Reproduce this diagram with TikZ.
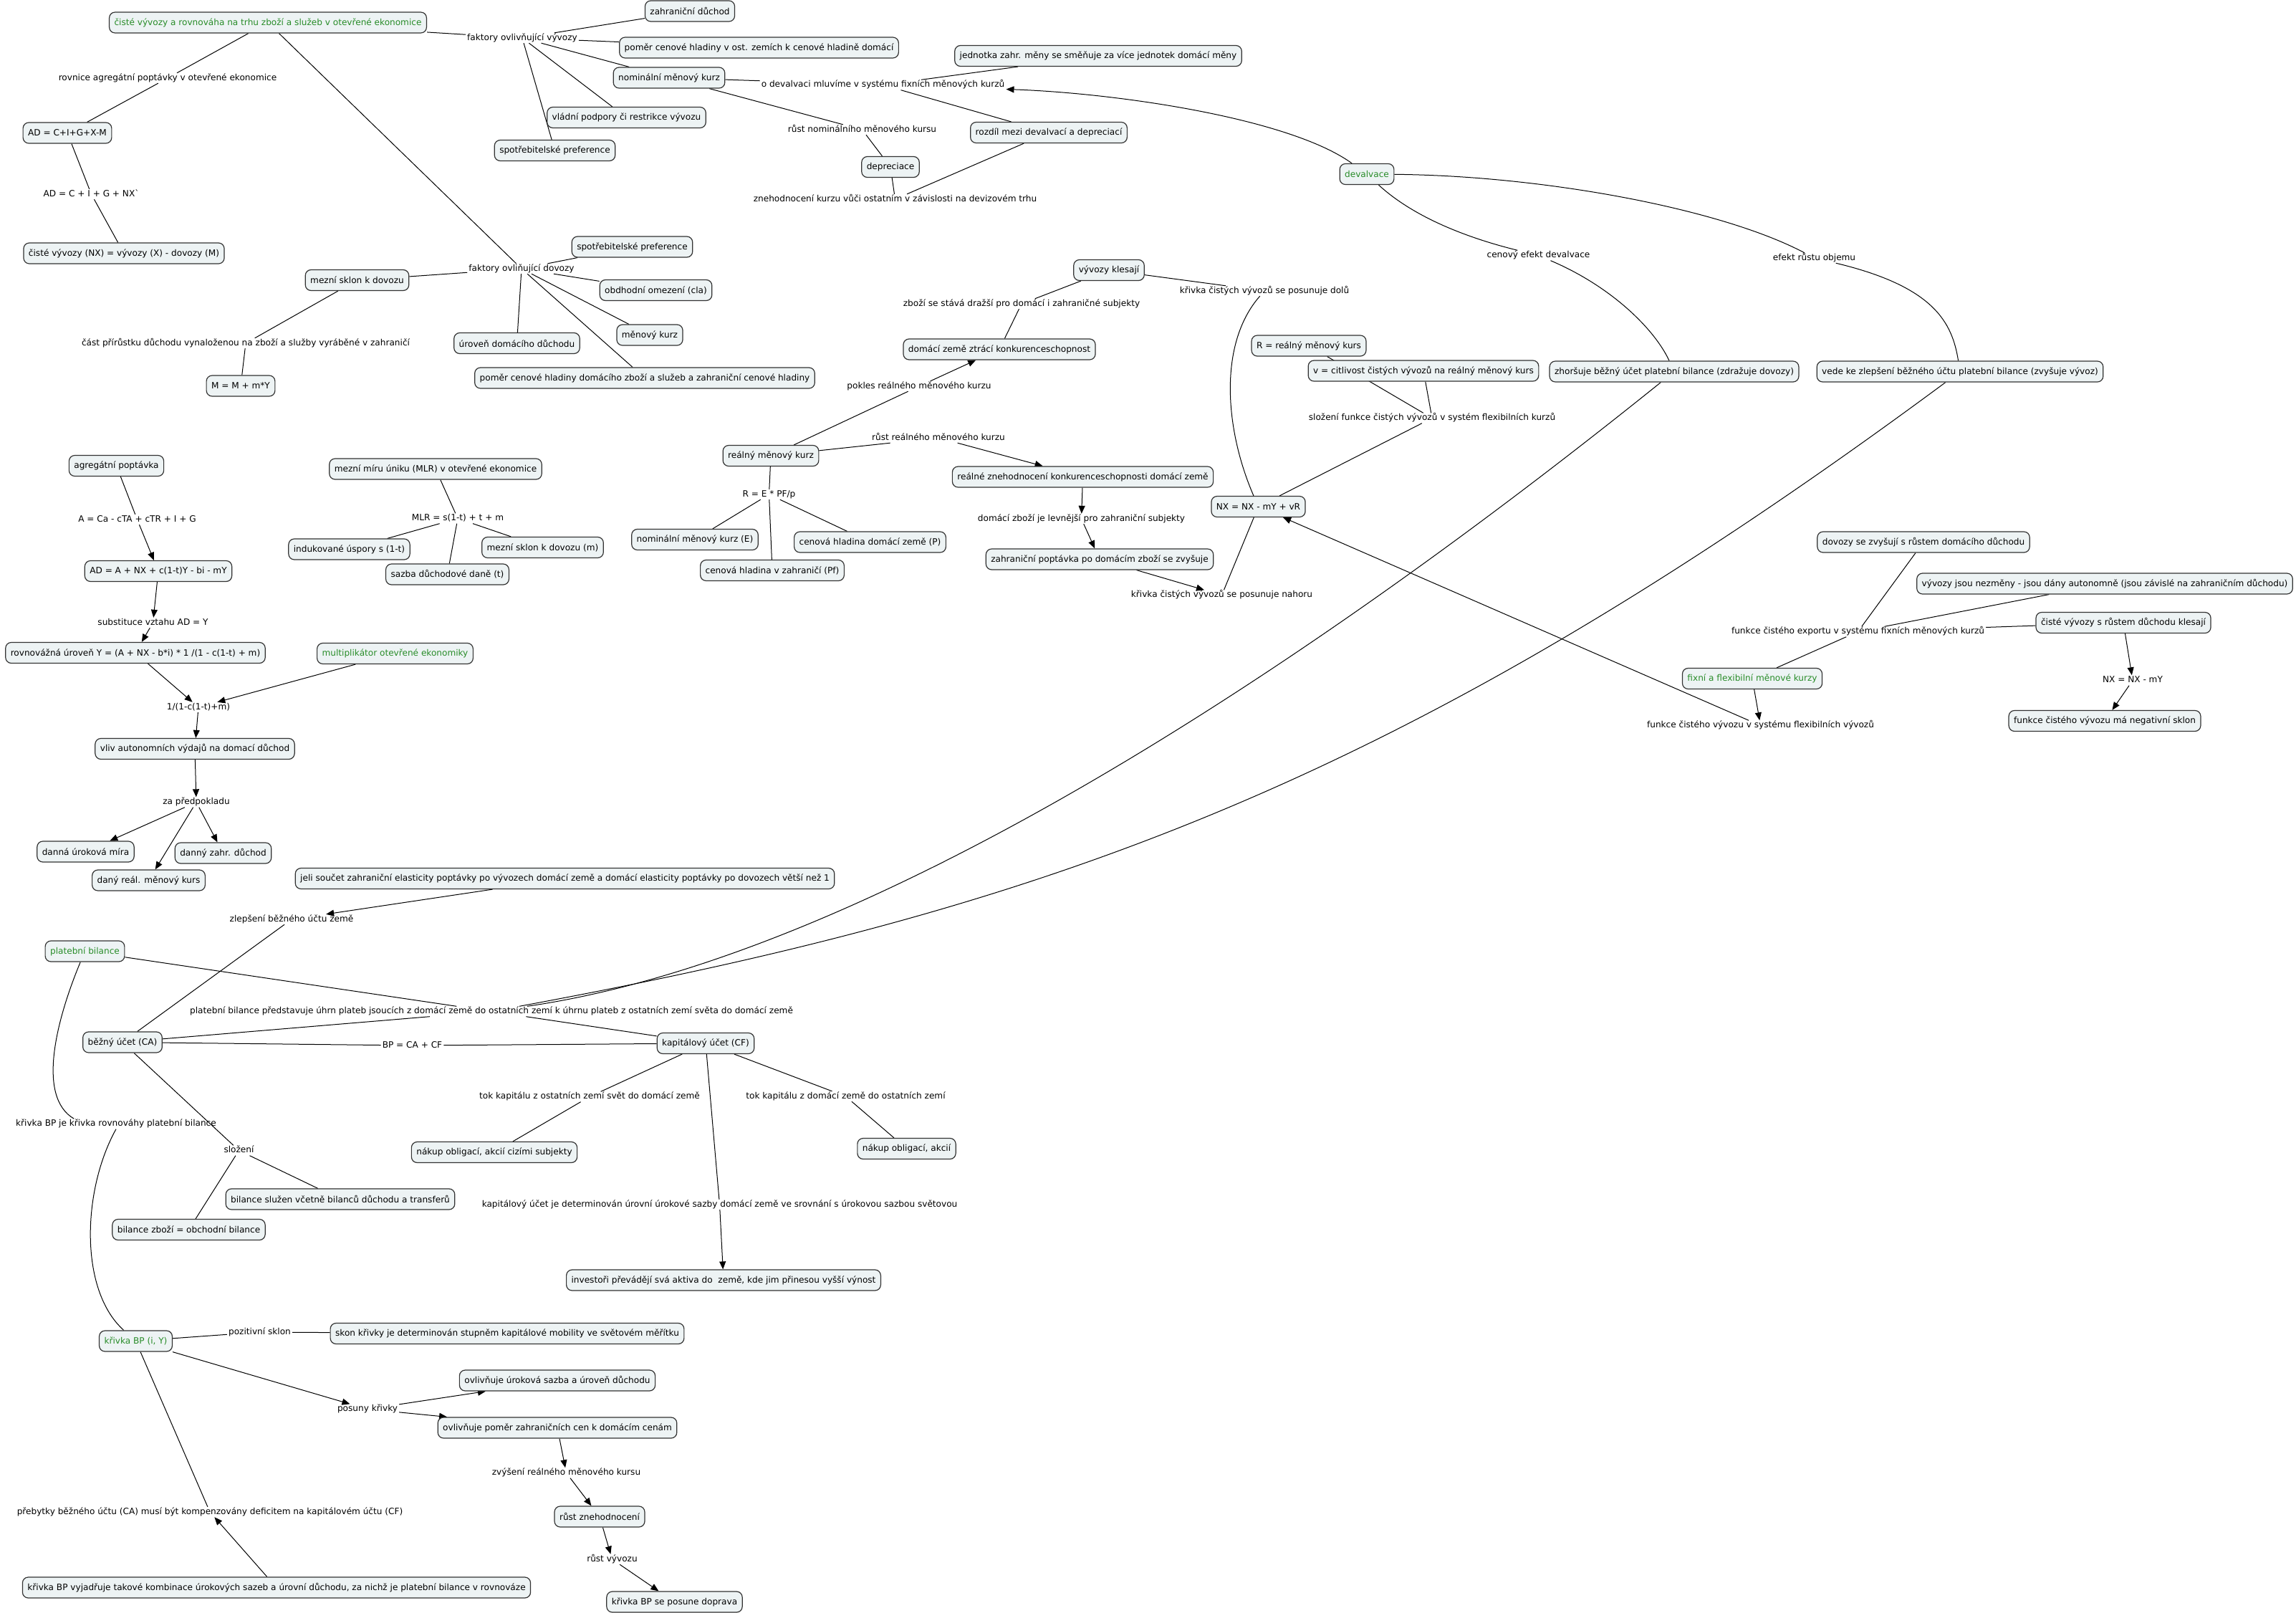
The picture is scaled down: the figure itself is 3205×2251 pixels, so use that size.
\documentclass[tikz,border=0pt]{standalone}
\usepackage{fontspec}
\setmainfont{DejaVu Sans}
\usetikzlibrary{arrows.meta,backgrounds}
\definecolor{boxfill}{HTML}{EDF3F4}
\definecolor{boxline}{HTML}{333333}
\definecolor{cmgreen}{RGB}{40,140,40}
\tikzset{
  base/.style={font=\fontsize{12.1}{14}\selectfont},
  cbox/.style={base, draw=boxline, line width=1.2pt, fill=boxfill, rounded corners=8pt,
    inner xsep=7pt, inner ysep=0pt, minimum height=29pt},
  gbox/.style={cbox, text=cmgreen},
  lbl/.style={base, inner xsep=2pt, inner ysep=1pt, text height=9pt, text depth=3pt},
  conn/.style={line width=1pt, black},
  arr/.style={conn, -{Triangle[length=11pt,width=9pt]}}
}
\begin{document}
\begin{tikzpicture}[x=1pt,y=-1pt]
\useasboundingbox (0,0) rectangle (3205,2251);
% ---------------- nodes ----------------
\node[gbox] (main) at (374,31.5) {čisté vývozy a rovnováha na trhu zboží a služeb v otevřené ekonomice};
\node[lbl] (lfv) at (729,53) {faktory ovlivňující vývozy};
\node[cbox] (zd) at (963,15.5) {zahraniční důchod};
\node[cbox] (pch) at (1059.5,66.5) {poměr cenové hladiny v ost. zemích k cenové hladině domácí};
\node[cbox] (nmk) at (934,108.5) {nominální měnový kurz};
\node[cbox] (vp) at (874.5,164) {vládní podpory či restrikce vývozu};
\node[cbox] (sp1) at (774.5,210) {spotřebitelské preference};
\node[lbl] (lrov) at (234,109) {rovnice agregátní poptávky v otevřené ekonomice};
\node[cbox] (ad1) at (94,185.5) {AD = C+I+G+X-M};
\node[lbl] (lad2) at (127.5,271) {AD = C + I + G + NX\textasciigrave};
\node[cbox] (nx1) at (173,353.5) {čisté vývozy (NX) = vývozy (X) - dovozy (M)};
\node[lbl] (lfd) at (728,375) {faktory ovliňující dovozy};
\node[cbox] (sp2) at (882.5,344.5) {spotřebitelské preference};
\node[cbox] (msd) at (498.5,391) {mezní sklon k dovozu};
\node[cbox] (oo) at (915.5,405) {obdhodní omezení (cla)};
\node[cbox] (mk) at (907,467.5) {měnový kurz};
\node[cbox] (udd) at (721.5,479) {úroveň domácího důchodu};
\node[cbox] (pcd) at (900,527.5) {poměr cenové hladiny domácího zboží a služeb a zahraniční cenové hladiny};
\node[lbl] (lcp) at (343,479) {část přírůstku důchodu vynaloženou na zboží a služby vyráběné v zahraničí};
\node[cbox] (mm) at (336,538.5) {M = M + m*Y};
\node[cbox] (jzm) at (1533,78) {jednotka zahr. měny se směňuje za více jednotek domácí měny};
\node[lbl] (lodv) at (1232.5,118.5) {o devalvaci mluvíme v systému fixních měnových kurzů};
\node[lbl] (lrnk) at (1203.5,181) {růst nominálního měnového kursu};
\node[cbox] (rdd) at (1464,185) {rozdíl mezi devalvací a depreciací};
\node[cbox] (dep) at (1243,233) {depreciace};
\node[lbl] (lzk) at (1249.5,278) {znehodnocení kurzu vůči ostatním v závislosti na devizovém trhu};
\node[gbox] (dev) at (1908,243) {devalvace};
\node[lbl] (lced) at (2147.5,356.5) {cenový efekt devalvace};
\node[lbl] (lero) at (2532.5,360) {efekt růstu objemu};
\node[cbox] (zhb) at (2337,518.5) {zhoršuje běžný účet platební bilance (zdražuje dovozy)};
\node[cbox] (vzb) at (2736,518.5) {vede ke zlepšení běžného účtu platební bilance (zvyšuje vývoz)};
\node[cbox] (vk) at (1548,377) {vývozy klesají};
\node[lbl] (lkd) at (1765,406) {křivka čistých vývozů se posunuje dolů};
\node[lbl] (lzd) at (1426,424) {zboží se stává dražší pro domácí i zahraničné subjekty};
\node[cbox] (dzk) at (1395,487.5) {domácí země ztrácí konkurenceschopnost};
\node[cbox] (rmk) at (1827,482.5) {R = reálný měnový kurs};
\node[cbox] (vcit) at (1987,517.5) {v = citlivost čistých vývozů na reálný měnový kurs};
\node[lbl] (lprk) at (1283,539) {pokles reálného měnového kurzu};
\node[lbl] (lsf) at (1999,583.5) {složení funkce čistých vývozů v systém flexibilních kurzů};
\node[cbox] (nxv) at (1756.5,707) {NX = NX - mY + vR};
\node[cbox] (rk) at (1076,636) {reálný měnový kurz};
\node[lbl] (lre) at (1073.5,690) {R = E * PF/p};
\node[cbox] (nmke) at (970,753) {nominální měnový kurz (E)};
\node[cbox] (chz) at (1078,796) {cenová hladina v zahraničí (Pf)};
\node[cbox] (chd) at (1214.5,756.5) {cenová hladina domácí země (P)};
\node[lbl] (lrrk) at (1310,611) {růst reálného měnového kurzu};
\node[cbox] (rzk) at (1511.5,665.5) {reálné znehodnocení konkurenceschopnosti domácí země};
\node[lbl] (ldzl) at (1509.5,724) {domácí zboží je levnější pro zahraniční subjekty};
\node[cbox] (zpd) at (1535,780.5) {zahraniční poptávka po domácím zboží se zvyšuje};
\node[lbl] (lkn) at (1705.5,830.5) {křivka čistých vývozů se posunuje nahoru};
\node[cbox] (dzr) at (2685,756.5) {dovozy se zvyšují s růstem domácího důchodu};
\node[cbox] (vjn) at (2938,814.5) {vývozy jsou nezměny - jsou dány autonomně (jsou závislé na zahraničním důchodu)};
\node[cbox] (cvk) at (2964,869) {čisté vývozy s růstem důchodu klesají};
\node[lbl] (lfce) at (2593.5,881.5) {funkce čistého exportu v systému fixních měnových kurzů};
\node[gbox] (ffk) at (2446,947) {fixní a flexibilní měnové kurzy};
\node[lbl] (lnxm) at (2977,949.5) {NX = NX - mY};
\node[cbox] (fns) at (2938,1006) {funkce čistého vývozu má negativní sklon};
\node[lbl] (lfcf) at (2457.5,1012.5) {funkce čistého vývozu v systému flexibilních vývozů};
\node[cbox] (agp) at (162.5,650) {agregátní poptávka};
\node[lbl] (la) at (191.5,725) {A = Ca - cTA + cTR + I + G};
\node[cbox] (ad2) at (221,797) {AD = A + NX + c(1-t)Y - bi - mY};
\node[lbl] (lsub) at (213.5,869) {substituce vztahu AD = Y};
\node[cbox] (rov) at (189,911) {rovnovážná úroveň Y = (A + NX - b*i) * 1 /(1 - c(1-t) + m)};
\node[gbox] (mult) at (551.5,912) {multiplikátor otevřené ekonomiky};
\node[lbl] (lmf) at (277,987) {1/(1-c(1-t)+m)};
\node[cbox] (vliv) at (272,1045) {vliv autonomních výdajů na domací důchod};
\node[lbl] (lzp) at (274,1119.5) {za předpokladu};
\node[cbox] (mmu) at (608,654.5) {mezní míru úniku (MLR) v otevřené ekonomice};
\node[lbl] (lmlr) at (639,723.5) {MLR = s(1-t) + t + m};
\node[cbox] (ius) at (487.5,766.5) {indukované úspory s (1-t)};
\node[cbox] (msdm) at (757.5,764) {mezní sklon k dovozu (m)};
\node[cbox] (sdd) at (624.5,801.5) {sazba důchodové daně (t)};
\node[cbox] (dum) at (119.5,1188.5) {danná úroková míra};
\node[cbox] (dzd) at (311.5,1190.5) {danný zahr. důchod};
\node[cbox] (drk) at (207.5,1228.5) {daný reál. měnový kurs};
\node[cbox] (jeli) at (788.5,1226) {jeli součet zahraniční elasticity poptávky po vývozech domácí země a domácí elasticity poptávky po dovozech větší než 1};
\node[lbl] (lzbu) at (407,1283) {zlepšení běžného účtu země};
\node[gbox] (pb) at (118.5,1327.5) {platební bilance};
\node[lbl] (lpbp) at (686,1411.5) {platební bilance představuje úhrn plateb jsoucích z domácí země do ostatních zemí k úhrnu plateb z ostatních zemí světa do domácí země};
\node[cbox] (bu) at (171,1454.5) {běžný účet (CA)};
\node[lbl] (lbp) at (575.5,1459) {BP = CA + CF};
\node[cbox] (ku) at (985,1456) {kapitálový účet (CF)};
\node[lbl] (ltko) at (823,1530.5) {tok kapitálu z ostatních zemí svět do domácí země};
\node[lbl] (ltkd) at (1180.5,1530) {tok kapitálu z domácí země do ostatních zemí};
\node[lbl] (lkbp) at (162,1568.5) {křivka BP je křivka rovnováhy platební bilance};
\node[lbl] (lslo) at (333.5,1605.5) {složení};
\node[cbox] (noc) at (690,1608) {nákup obligací, akcií cizími subjekty};
\node[cbox] (noa) at (1265.5,1603) {nákup obligací, akcií};
\node[cbox] (bsl) at (475,1673.5) {bilance služen včetně bilanců důchodu a transferů};
\node[lbl] (lkud) at (1004.5,1681) {kapitálový účet je determinován úrovní úrokové sazby domácí země ve srovnání s úrokovou sazbou světovou};
\node[cbox] (bzo) at (263.5,1716) {bilance zboží = obchodní bilance};
\node[cbox] (inv) at (1010,1786.5) {investoři převádějí svá aktiva do\ \ země, kde jim přinesou vyšší výnost};
\node[gbox] (kbp) at (189.5,1871.5) {křivka BP (i, Y)};
\node[lbl] (lps) at (362.5,1859) {pozitivní sklon};
\node[cbox] (skk) at (708,1861) {skon křivky je determinován stupněm kapitálové mobility ve světovém měřítku};
\node[cbox] (ous) at (778,1926.5) {ovlivňuje úroková sazba a úroveň důchodu};
\node[lbl] (lpos) at (513,1966.5) {posuny křivky};
\node[cbox] (opz) at (778,1992.5) {ovlivňuje poměr zahraničních cen k domácím cenám};
\node[lbl] (lzrm) at (790.5,2055.5) {zvýšení reálného měnového kursu};
\node[cbox] (rzn) at (837,2116.5) {růst znehodnocení};
\node[lbl] (lrv) at (854.5,2176) {růst vývozu};
\node[cbox] (kbpd) at (941.5,2235.5) {křivka BP se posune doprava};
\node[lbl] (lpreb) at (293,2110) {přebytky běžného účtu (CA) musí být kompenzovány deficitem na kapitálovém účtu (CF)};
\node[cbox] (kbpv) at (386,2215.5) {křivka BP vyjadřuje takové kombinace úrokových sazeb a úrovní důchodu, za nichž je platební bilance v rovnováze};
% ---------------- connectors ----------------
\begin{pgfonlayer}{background}
\draw[conn] (main) -- (lrov);
\draw[conn] (lrov) -- (ad1);
\draw[conn] (ad1) -- (lad2);
\draw[conn] (lad2) -- (nx1);
\draw[conn] (main) -- (lfv);
\draw[conn] (lfv) -- (zd);
\draw[conn] (lfv) -- (pch);
\draw[conn] (lfv) -- (nmk);
\draw[conn] (lfv) -- (vp);
\draw[conn] (lfv) -- (sp1);
\draw[conn] (main) -- (lfd);
\draw[conn] (lfd) -- (sp2);
\draw[conn] (lfd) -- (msd);
\draw[conn] (lfd) -- (oo);
\draw[conn] (lfd) -- (mk);
\draw[conn] (lfd) -- (udd);
\draw[conn] (lfd) -- (pcd);
\draw[conn] (msd) -- (lcp);
\draw[conn] (lcp) -- (mm);
\draw[conn] (nmk) -- (lodv);
\draw[conn] (nmk) -- (lrnk);
\draw[conn] (lrnk) -- (dep);
\draw[conn] (dep) -- (lzk);
\draw[conn] (lzk) -- (rdd);
\draw[conn] (lodv) -- (jzm);
\draw[conn] (lodv) -- (rdd);
\draw[arr] (dev) .. controls (1800,165) and (1560,130) .. (lodv);
\draw[conn] (dev) .. controls (1970,300) and (2040,330) .. (lced);
\draw[conn] (lced) .. controls (2250,400) and (2310,460) .. (zhb);
\draw[conn] (dev) .. controls (2150,245) and (2400,290) .. (lero);
\draw[conn] (lero) .. controls (2700,400) and (2725,450) .. (vzb);
\draw[conn] (zhb) .. controls (1900,870) and (1250,1330) .. (lpbp);
\draw[conn] (vzb) .. controls (1950,1100) and (1450,1270) .. (lpbp);
\draw[conn] (vk) -- (lzd);
\draw[conn] (lzd) -- (dzk);
\draw[conn] (vk) -- (lkd);
\draw[conn] (lkd) .. controls (1700,480) and (1710,600) .. (nxv);
\draw[arr] (lprk) -- (dzk);
\draw[conn] (rk) -- (lprk);
\draw[conn] (rk) -- (lrrk);
\draw[arr] (lrrk) -- (rzk);
\draw[conn] (rk) -- (lre);
\draw[conn] (lre) -- (nmke);
\draw[conn] (lre) -- (chz);
\draw[conn] (lre) -- (chd);
\draw[arr] (rzk) -- (ldzl);
\draw[arr] (ldzl) -- (zpd);
\draw[arr] (zpd) -- (lkn);
\draw[conn] (lkn) -- (nxv);
\draw[conn] (rmk) -- (lsf);
\draw[conn] (vcit) -- (lsf);
\draw[conn] (lsf) -- (nxv);
\draw[arr] (lfcf) -- (nxv);
\draw[arr] (ffk) -- (lfcf);
\draw[conn] (ffk) -- (lfce);
\draw[conn] (lfce) -- (dzr);
\draw[conn] (lfce) -- (vjn);
\draw[conn] (lfce) -- (cvk);
\draw[arr] (cvk) -- (lnxm);
\draw[arr] (lnxm) -- (fns);
\draw[conn] (agp) -- (la);
\draw[arr] (la) -- (ad2);
\draw[arr] (ad2) -- (lsub);
\draw[arr] (lsub) -- (rov);
\draw[arr] (rov) -- (lmf);
\draw[arr] (mult) -- (lmf);
\draw[arr] (lmf) -- (vliv);
\draw[arr] (vliv) -- (lzp);
\draw[arr] (lzp) -- (dum);
\draw[arr] (lzp) -- (drk);
\draw[arr] (lzp) -- (dzd);
\draw[conn] (mmu) -- (lmlr);
\draw[conn] (lmlr) -- (ius);
\draw[conn] (lmlr) -- (msdm);
\draw[conn] (lmlr) -- (sdd);
\draw[arr] (jeli) -- (lzbu);
\draw[conn] (lzbu) -- (bu);
\draw[conn] (pb) -- (lpbp);
\draw[conn] (lpbp) -- (bu);
\draw[conn] (lpbp) -- (ku);
\draw[conn] (bu) -- (lbp);
\draw[conn] (lbp) -- (ku);
\draw[conn] (bu) -- (lslo);
\draw[conn] (lslo) -- (bsl);
\draw[conn] (lslo) -- (bzo);
\draw[conn] (ku) -- (ltko);
\draw[conn] (ltko) -- (noc);
\draw[conn] (ku) -- (ltkd);
\draw[conn] (ltkd) -- (noa);
\draw[conn] (ku) -- (lkud);
\draw[arr] (lkud) -- (inv);
\draw[conn] (pb) .. controls (80,1420) and (50,1530) .. (lkbp.173);
\draw[conn] (lkbp.south) .. controls (115,1660) and (110,1800) .. (kbp);
\draw[conn] (kbp) -- (lps);
\draw[conn] (lps) -- (skk);
\draw[arr] (kbp) -- (lpos);
\draw[arr] (lpos) -- (ous);
\draw[arr] (lpos) -- (opz);
\draw[arr] (opz) -- (lzrm);
\draw[arr] (lzrm) -- (rzn);
\draw[arr] (rzn) -- (lrv);
\draw[arr] (lrv) -- (kbpd);
\draw[conn] (kbp) -- (lpreb);
\draw[arr] (kbpv) -- (lpreb);
\end{pgfonlayer}
\end{tikzpicture}
\end{document}
